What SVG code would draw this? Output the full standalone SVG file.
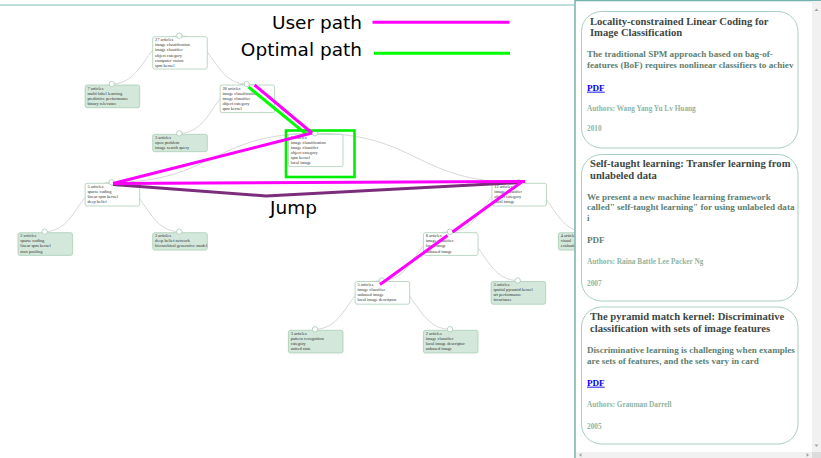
<svg xmlns="http://www.w3.org/2000/svg" width="821" height="458" viewBox="0 0 821 458">
<style>
.link{fill:none;stroke:#d2d2d2;stroke-width:0.9}
.box{stroke:#a9cdb6;stroke-width:0.8}
.open{fill:#ffffff}
.closed{fill:#d3e7db}
.dot{fill:#ffffff;stroke:#a9c9b5;stroke-width:0.8}
.nt{font-family:"Liberation Serif",serif;font-size:4.4px;fill:#333333}
.lg{font-family:"DejaVu Sans",sans-serif;font-size:18.5px;fill:#000000}
.card{fill:#ffffff;stroke:#a8cfc0;stroke-width:1}
.ttl{font-family:"Liberation Serif",serif;font-weight:bold;font-size:10.6px;fill:#3d4743}
.abs{font-family:"Liberation Serif",serif;font-weight:bold;font-size:9.1px;fill:#5e8070}
.pdf{font-family:"Liberation Serif",serif;font-weight:bold;font-size:9.1px;fill:#0000ee}
.meta{font-family:"Liberation Serif",serif;font-weight:bold;font-size:7.3px;fill:#8fb5a3}
.user{stroke:#ff00ff;stroke-width:3;fill:none}
.opt{stroke:#00ff00;stroke-width:3;fill:none}
</style>
<defs>
<clipPath id="leftclip"><rect x="0" y="0" width="574.5" height="458"/></clipPath>
</defs>
<rect x="0" y="0" width="821" height="458" fill="#ffffff"/>
<g id="leftpane" clip-path="url(#leftclip)">
<line x1="0" y1="5" x2="575" y2="5" stroke="#7fbab5" stroke-width="1"/>
<g id="links">
<path class="link" d="M179.3,35.7 C145.5,35.7 145.5,84 111.7,84"/>
<path class="link" d="M179.3,35.7 C213,35.7 213,84 246.7,84"/>
<path class="link" d="M246.7,84 C213,84 213,133.3 179.3,133.3"/>
<path class="link" d="M246.7,84 C280.85,84 280.85,133.3 315,133.3"/>
<path class="link" d="M315,133.3 C213.35,133.3 213.35,182.3 111.7,182.3"/>
<path class="link" d="M315,133.3 C416.75,133.3 416.75,182.3 518.5,182.3"/>
<path class="link" d="M111.7,182.3 C78.15,182.3 78.15,231.7 44.6,231.7"/>
<path class="link" d="M111.7,182.3 C145.5,182.3 145.5,231.7 179.3,231.7"/>
<path class="link" d="M518.5,182.3 C484.25,182.3 484.25,231.7 450,231.7"/>
<path class="link" d="M518.5,182.3 C551.75,182.3 551.75,231.7 585,231.7"/>
<path class="link" d="M450,231.7 C415.85,231.7 415.85,280.5 381.7,280.5"/>
<path class="link" d="M450,231.7 C483.85,231.7 483.85,280.5 517.7,280.5"/>
<path class="link" d="M381.7,280.5 C348.35,280.5 348.35,329.3 315,329.3"/>
<path class="link" d="M381.7,280.5 C415.85,280.5 415.85,329.3 450,329.3"/>
</g>
<g id="n27"><rect class="box open" x="152.7" y="36.7" width="54.6" height="32.3" rx="2"/><circle class="dot" cx="179.3" cy="35.7" r="2.7"/><text class="nt"><tspan x="155" y="41.2">27 articles</tspan><tspan x="155" y="46.3">image classification</tspan><tspan x="155" y="51.4">image classifier</tspan><tspan x="155" y="56.5">object category</tspan><tspan x="155" y="61.6">computer vision</tspan><tspan x="155" y="66.7">spm kernel</tspan></text></g>
<g id="n7"><rect class="box closed" x="85.1" y="85" width="54.6" height="22.7" rx="2"/><circle class="dot" cx="111.7" cy="84" r="2.7"/><text class="nt"><tspan x="87.4" y="89.5">7 articles</tspan><tspan x="87.4" y="94.6">multi-label learning</tspan><tspan x="87.4" y="99.7">predictive performance</tspan><tspan x="87.4" y="104.8">binary relevance</tspan></text></g>
<g id="n28"><rect class="box open" x="220.1" y="85" width="54.6" height="27.6" rx="2"/><circle class="dot" cx="246.7" cy="84" r="2.7"/><text class="nt"><tspan x="222.4" y="89.5">28 articles</tspan><tspan x="222.4" y="94.6">image classification</tspan><tspan x="222.4" y="99.7">image classifier</tspan><tspan x="222.4" y="104.8">object category</tspan><tspan x="222.4" y="109.9">spm kernel</tspan></text></g>
<g id="n3open"><rect class="box closed" x="152.7" y="134.3" width="54.6" height="17.4" rx="2"/><circle class="dot" cx="179.3" cy="133.3" r="2.7"/><text class="nt"><tspan x="155" y="138.8">3 articles</tspan><tspan x="155" y="143.9">open problem</tspan><tspan x="155" y="149">image search query</tspan></text></g>
<g id="n5box"><rect class="box open" x="288.4" y="134.3" width="54.6" height="32.3" rx="2"/><circle class="dot" cx="315" cy="133.3" r="2.7"/><text class="nt"><tspan x="290.7" y="138.8">5 articles</tspan><tspan x="290.7" y="143.9">image classification</tspan><tspan x="290.7" y="149">image classifier</tspan><tspan x="290.7" y="154.1">object category</tspan><tspan x="290.7" y="159.2">spm kernel</tspan><tspan x="290.7" y="164.3">local image</tspan></text></g>
<g id="n5sparse"><rect class="box open" x="85.1" y="183.3" width="54.6" height="22.7" rx="2"/><circle class="dot" cx="111.7" cy="182.3" r="2.7"/><text class="nt"><tspan x="87.4" y="187.8">5 articles</tspan><tspan x="87.4" y="192.9">sparse coding</tspan><tspan x="87.4" y="198">linear spm kernel</tspan><tspan x="87.4" y="203.1">deep belief</tspan></text></g>
<g id="n12"><rect class="box open" x="491.9" y="183.3" width="54.6" height="22.7" rx="2"/><circle class="dot" cx="518.5" cy="182.3" r="2.7"/><text class="nt"><tspan x="494.2" y="187.8">12 articles</tspan><tspan x="494.2" y="192.9">image classifier</tspan><tspan x="494.2" y="198">object category</tspan><tspan x="494.2" y="203.1">local image</tspan></text></g>
<g id="n2max"><rect class="box closed" x="18" y="232.7" width="54.6" height="22.7" rx="2"/><circle class="dot" cx="44.6" cy="231.7" r="2.7"/><text class="nt"><tspan x="20.3" y="237.2">2 articles</tspan><tspan x="20.3" y="242.3">sparse coding</tspan><tspan x="20.3" y="247.4">linear spm kernel</tspan><tspan x="20.3" y="252.5">max pooling</tspan></text></g>
<g id="n3deep"><rect class="box closed" x="152.7" y="232.7" width="54.6" height="17.4" rx="2"/><circle class="dot" cx="179.3" cy="231.7" r="2.7"/><text class="nt"><tspan x="155" y="237.2">3 articles</tspan><tspan x="155" y="242.3">deep belief network</tspan><tspan x="155" y="247.4">hierarchical generative model</tspan></text></g>
<g id="n8"><rect class="box open" x="423.4" y="232.7" width="54.6" height="22.7" rx="2"/><circle class="dot" cx="450" cy="231.7" r="2.7"/><text class="nt"><tspan x="425.7" y="237.2">8 articles</tspan><tspan x="425.7" y="242.3">image classifier</tspan><tspan x="425.7" y="247.4">local image</tspan><tspan x="425.7" y="252.5">unbased image</tspan></text></g>
<g id="n4vis"><rect class="box closed" x="558.4" y="232.7" width="54.6" height="17.4" rx="2"/><circle class="dot" cx="585" cy="231.7" r="2.7"/><text class="nt"><tspan x="560.7" y="237.2">4 articles</tspan><tspan x="560.7" y="242.3">visual</tspan><tspan x="560.7" y="247.4">evaluation</tspan></text></g>
<g id="n5img"><rect class="box open" x="355.1" y="281.5" width="54.6" height="22.7" rx="2"/><circle class="dot" cx="381.7" cy="280.5" r="2.7"/><text class="nt"><tspan x="357.4" y="286">5 articles</tspan><tspan x="357.4" y="291.1">image classifier</tspan><tspan x="357.4" y="296.2">unbased image</tspan><tspan x="357.4" y="301.3">local image descriptor</tspan></text></g>
<g id="n3spatial"><rect class="box closed" x="491.1" y="281.5" width="54.6" height="22.7" rx="2"/><circle class="dot" cx="517.7" cy="280.5" r="2.7"/><text class="nt"><tspan x="493.4" y="286">3 articles</tspan><tspan x="493.4" y="291.1">spatial pyramid kernel</tspan><tspan x="493.4" y="296.2">art performance</tspan><tspan x="493.4" y="301.3">invariance</tspan></text></g>
<g id="n3pattern"><rect class="box closed" x="288.4" y="330.3" width="54.6" height="22.7" rx="2"/><circle class="dot" cx="315" cy="329.3" r="2.7"/><text class="nt"><tspan x="290.7" y="334.8">3 articles</tspan><tspan x="290.7" y="339.9">pattern recognition</tspan><tspan x="290.7" y="345">category</tspan><tspan x="290.7" y="350.1">united state</tspan></text></g>
<g id="n2img"><rect class="box closed" x="423.4" y="330.3" width="54.6" height="22.7" rx="2"/><circle class="dot" cx="450" cy="329.3" r="2.7"/><text class="nt"><tspan x="425.7" y="334.8">2 articles</tspan><tspan x="425.7" y="339.9">image classifier</tspan><tspan x="425.7" y="345">local image descriptor</tspan><tspan x="425.7" y="350.1">unbased image</tspan></text></g>
<g id="paths">
<rect x="286" y="130.5" width="68.5" height="46.5" fill="none" stroke="#00ee00" stroke-width="2.6"/>
<line class="opt" x1="248.5" y1="87" x2="306.5" y2="134.3"/>
<line class="user" x1="254.5" y1="85" x2="312" y2="133"/>
<polyline points="113,184.5 266,196 521,182.5" fill="none" stroke="#7b2d7b" stroke-width="3"/>
<line class="user" x1="312" y1="133" x2="113" y2="183.5"/>
<line class="user" x1="113" y1="183.5" x2="525" y2="181.5"/>
<line class="user" x1="523" y1="181" x2="452.5" y2="232"/>
<line class="user" x1="447.5" y1="235.5" x2="380" y2="284.5"/>
</g>
<g id="legend">
<text class="lg" x="362" y="28.5" text-anchor="end">User path</text>
<line class="user" x1="372.5" y1="22.3" x2="509.5" y2="22.3"/>
<text class="lg" x="362" y="56" text-anchor="end">Optimal path</text>
<line class="opt" x1="374" y1="53.3" x2="510" y2="53.3"/>
<text class="lg" x="270" y="214">Jump</text>
</g>
</g>
<g id="panel">
<rect x="575" y="0" width="246" height="458" fill="#ffffff"/>
<line x1="575" y1="0" x2="575" y2="458" stroke="#74b3ad" stroke-width="1.5"/>
<line x1="575" y1="0.6" x2="821" y2="0.6" stroke="#74b3ad" stroke-width="1.2"/>
<g id="card1">
<rect class="card" x="581.5" y="11.5" width="216.5" height="136.5" rx="20"/>
<text class="ttl"><tspan x="590" y="25">Locality-constrained Linear Coding for</tspan><tspan x="590" y="35.8">Image Classification</tspan></text>
<text class="abs"><tspan x="587" y="57.3">The traditional SPM approach based on bag-of-</tspan><tspan x="587" y="67.7">features (BoF) requires nonlinear classifiers to achiev</tspan></text>
<text class="pdf" x="587" y="90.7" text-decoration="underline">PDF</text>
<text class="meta" x="587" y="111">Authors: Wang Yang Yu Lv Huang</text>
<text class="meta" x="587" y="131">2010</text>
</g>
<g id="card2">
<rect class="card" x="581.5" y="154.5" width="216.5" height="146.5" rx="20"/>
<text class="ttl"><tspan x="590" y="167">Self-taught learning: Transfer learning from</tspan><tspan x="590" y="178.5">unlabeled data</tspan></text>
<text class="abs"><tspan x="587" y="199.7">We present a new machine learning framework</tspan><tspan x="587" y="210.3">called" self-taught learning" for using unlabeled data</tspan><tspan x="587" y="220.7">i</tspan></text>
<text class="abs" x="587" y="242.7">PDF</text>
<text class="meta" x="587" y="264">Authors: Raina Battle Lee Packer Ng</text>
<text class="meta" x="587" y="286">2007</text>
</g>
<g id="card3">
<rect class="card" x="581.5" y="307" width="216.5" height="137" rx="20"/>
<text class="ttl"><tspan x="590" y="319.5">The pyramid match kernel: Discriminative</tspan><tspan x="590" y="331.5">classification with sets of image features</tspan></text>
<text class="abs"><tspan x="587" y="353.3">Discriminative learning is challenging when examples</tspan><tspan x="587" y="363.5">are sets of features, and the sets vary in card</tspan></text>
<text class="pdf" x="587" y="385.7" text-decoration="underline">PDF</text>
<text class="meta" x="587" y="406.7">Authors: Grauman Darrell</text>
<text class="meta" x="587" y="428.7">2005</text>
</g>
<g id="scrollbars">
<rect x="812" y="1" width="9" height="451" fill="#f1f1f1"/>
<rect x="576" y="452" width="236" height="6" fill="#f1f1f1"/>
<rect x="812" y="452" width="9" height="6" fill="#dcdcdc"/>
<polygon points="814.5,11 818.5,11 816.5,8.5" fill="#a3a3a3"/>
<polygon points="814.5,444.5 818.5,444.5 816.5,447" fill="#a3a3a3"/>
<polygon points="581.5,453 581.5,457 579,455" fill="#a3a3a3"/>
<polygon points="806.5,453 806.5,457 809,455" fill="#a3a3a3"/>
</g>
</g>
</svg>
